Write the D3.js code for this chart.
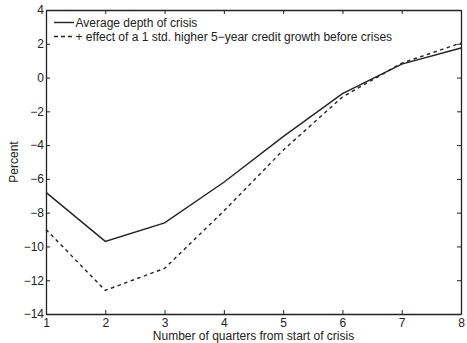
<!DOCTYPE html>
<html>
<head>
<meta charset="utf-8">
<script src="https://d3js.org/d3.v7.min.js"></script>
<style>
  html, body { margin: 0; padding: 0; background: #fff; }
  svg text { font-family: "Liberation Sans", Arial, Helvetica, sans-serif; fill: #222; }
</style>
</head>
<body>
<svg id="chart" width="467" height="343"></svg>
<script>
// Quarters since the start of the crisis
const quarters = [1, 2, 3, 4, 5, 6, 7, 8];
// Average depth of crisis (percent)
const avgDepth = [-6.8, -9.7, -8.6, -6.2, -3.5, -0.95, 0.8, 1.75];
// Depth plus effect of a 1 std. higher 5-year credit growth before crises (percent)
const withCredit = [-9.0, -12.6, -11.3, -7.9, -4.3, -1.15, 0.85, 2.05];
const yTicks = [4, 2, 0, -2, -4, -6, -8, -10, -12, -14];
const seriesNames = [
  "Average depth of crisis",
  "+ effect of a 1 std. higher 5\u2212year credit growth before crises"
];

const svg = d3.select("#chart");
const m = { left: 46, right: 461, top: 10, bottom: 314 };
const fontSize = 12;

const x = d3.scaleLinear().domain([1, 8]).range([m.left, m.right]);
const y = d3.scaleLinear().domain([-14, 4]).range([m.bottom, m.top]);

const fmt = d => (d < 0 ? "\u2212" + Math.abs(d) : String(d));
const ink = "#222";

// Axes with inward ticks on all four sides
const gB = svg.append("g").attr("transform", `translate(0,${m.bottom})`)
  .call(d3.axisBottom(x).tickValues(quarters).tickSizeInner(-4).tickSizeOuter(0).tickFormat(d3.format("d")));
const gT = svg.append("g").attr("transform", `translate(0,${m.top})`)
  .call(d3.axisTop(x).tickValues(quarters).tickSizeInner(-4).tickSizeOuter(0).tickFormat(""));
const gL = svg.append("g").attr("transform", `translate(${m.left},0)`)
  .call(d3.axisLeft(y).tickValues(yTicks).tickSizeInner(-4).tickSizeOuter(0).tickPadding(2).tickFormat(fmt));
const gR = svg.append("g").attr("transform", `translate(${m.right},0)`)
  .call(d3.axisRight(y).tickValues(yTicks).tickSizeInner(-4).tickSizeOuter(0).tickFormat(""));

[gB, gT, gL, gR].forEach(g => {
  g.select(".domain").attr("stroke", ink).attr("stroke-width", 1.3);
  g.selectAll(".tick line").attr("stroke", ink).attr("stroke-width", 1);
  g.selectAll(".tick text").attr("font-size", fontSize).attr("fill", ink)
    .attr("font-family", "'Liberation Sans', Arial, sans-serif");
});
gB.selectAll(".tick text").attr("y", 12.5).attr("dy", 0);

// Data lines
const line = d3.line().x((d, i) => x(quarters[i])).y(d => y(d));
svg.append("path").datum(avgDepth).attr("d", line)
  .attr("fill", "none").attr("stroke", ink).attr("stroke-width", 1.4);
svg.append("path").datum(withCredit).attr("d", line)
  .attr("fill", "none").attr("stroke", ink).attr("stroke-width", 1.4)
  .attr("stroke-dasharray", "3.5,3.5");

// Legend
const legend = svg.append("g");
seriesNames.forEach((name, i) => {
  const ly = 22.5 + i * 14;
  legend.append("line").attr("x1", 54).attr("x2", 74).attr("y1", ly).attr("y2", ly)
    .attr("stroke", ink).attr("stroke-width", 1.4)
    .attr("stroke-dasharray", i === 1 ? "4,3" : null);
  legend.append("text").attr("x", 75.5).attr("y", ly).attr("dy", "0.35em")
    .attr("font-size", fontSize).text(name);
});

// Axis titles
svg.append("text").attr("x", (m.left + m.right) / 2).attr("y", 340)
  .attr("text-anchor", "middle").attr("font-size", fontSize)
  .text("Number of quarters from start of crisis");
svg.append("text")
  .attr("transform", `translate(18,${(m.top + m.bottom) / 2}) rotate(-90)`)
  .attr("text-anchor", "middle").attr("font-size", fontSize)
  .text("Percent");
</script>
</body>
</html>
